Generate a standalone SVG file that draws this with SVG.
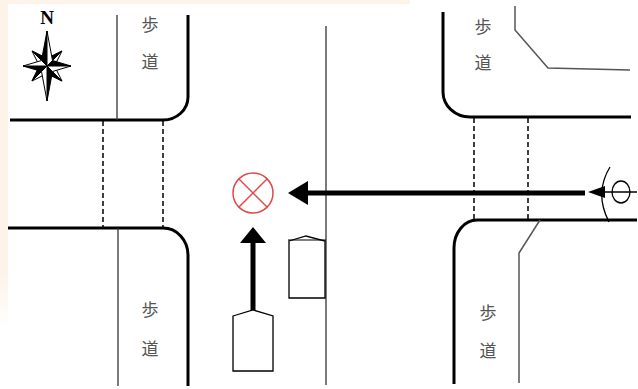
<svg xmlns="http://www.w3.org/2000/svg" width="638" height="389" viewBox="0 0 638 389">
<defs>
<linearGradient id="fade" x1="0" y1="0" x2="0" y2="1">
  <stop offset="0" stop-color="#fdf3e9"/>
  <stop offset="0.7" stop-color="#fdf3e9"/>
  <stop offset="0.85" stop-color="#fff"/>
</linearGradient>
</defs>
<style>
.edge{fill:none;stroke:#000;stroke-width:3;stroke-linecap:butt}
.thin{fill:none;stroke:#333;stroke-width:1.3}
.gray{fill:none;stroke:#555;stroke-width:1.5}
.dash{fill:none;stroke:#000;stroke-width:1.5;stroke-dasharray:5,3}
.lbl{font-family:"Noto Sans CJK JP","Noto Sans CJK SC",sans-serif;font-size:17px;fill:#555;text-anchor:middle}
.car{fill:#fff;stroke:#000;stroke-width:1.3}
.flow{fill:none;stroke:#000;stroke-width:5}
</style>
<rect width="638" height="389" fill="url(#fade)"/>
<rect x="8" y="4" width="630" height="385" fill="#fff"/>
<rect x="410" y="0" width="228" height="5" fill="#fff"/>

<g id="roads">
  <path class="edge" d="M10,120 H163 A25,23 0 0 0 188,97 V15"/>
  <path class="edge" d="M8,228 H163 A25,27 0 0 1 188,255 V386"/>
  <path class="edge" d="M443,12 V92 A27,25 0 0 0 470,117 H631"/>
  <path class="edge" d="M637,220 H477 A23,28 0 0 0 454,248 V384"/>
  <line class="thin" x1="326" y1="26" x2="326" y2="385"/>
</g>

<g id="sidewalk-nw">
  <line class="thin" x1="117" y1="15" x2="117" y2="120"/>
  <text class="lbl" x="150" y="31">歩</text>
  <text class="lbl" x="150" y="68">道</text>
</g>
<g id="sidewalk-sw">
  <line class="thin" x1="118" y1="228" x2="118" y2="386"/>
  <text class="lbl" x="150" y="316">歩</text>
  <text class="lbl" x="150" y="355">道</text>
</g>
<g id="sidewalk-ne">
  <polyline class="gray" points="515,6 515,30 548,68 630,70"/>
  <text class="lbl" x="483" y="33">歩</text>
  <text class="lbl" x="483" y="69">道</text>
</g>
<g id="sidewalk-se">
  <polyline class="gray" points="540,220 519,253 519,383"/>
  <text class="lbl" x="488" y="319">歩</text>
  <text class="lbl" x="488" y="357">道</text>
</g>

<g id="crosswalk-west">
  <line class="dash" x1="103" y1="121" x2="103" y2="227"/>
  <line class="dash" x1="163" y1="121" x2="163" y2="227"/>
</g>
<g id="crosswalk-east">
  <line class="dash" x1="474" y1="118" x2="474" y2="219"/>
  <line class="dash" x1="528" y1="118" x2="528" y2="219"/>
</g>

<g id="compass">
  <text x="47" y="24" font-family="'Liberation Serif',serif" font-weight="bold" font-size="19" text-anchor="middle">N</text>
  <g stroke="#000" stroke-width="1" stroke-linejoin="miter">
    <polygon points="62,51 46,59 54,67" fill="#fff"/>
    <polygon points="62,51 46,59 47,66" fill="#000"/>
    <polygon points="62,81 54,65 46,73" fill="#fff"/>
    <polygon points="62,81 46,73 47,66" fill="#000"/>
    <polygon points="32,81 48,73 40,65" fill="#fff"/>
    <polygon points="32,81 40,65 47,66" fill="#000"/>
    <polygon points="32,51 40,67 48,59" fill="#fff"/>
    <polygon points="32,51 48,59 47,66" fill="#000"/>
    <polygon points="47,31 41.5,60.5 47,66" fill="#000"/>
    <polygon points="47,31 52.5,60.5 47,66" fill="#fff"/>
    <polygon points="71,66 52.5,60.5 47,66" fill="#000"/>
    <polygon points="71,66 52.5,71.5 47,66" fill="#fff"/>
    <polygon points="47,101 52.5,71.5 47,66" fill="#000"/>
    <polygon points="47,101 41.5,71.5 47,66" fill="#fff"/>
    <polygon points="23,66 41.5,71.5 47,66" fill="#000"/>
    <polygon points="23,66 41.5,60.5 47,66" fill="#fff"/>
  </g>
</g>

<g id="car-a">
  <polygon class="car" points="233,316 253,310 273,316 273,371 233,371"/>
</g>
<g id="car-b">
  <polygon class="car" points="289,241 306,236 325,241 325,298 289,298"/>
  <line x1="288" y1="240" x2="326" y2="240" stroke="#000" stroke-width="1"/>
</g>

<g id="collision">
  <circle cx="253" cy="193" r="20" fill="none" stroke="#e04848" stroke-width="1.5"/>
  <line x1="239" y1="179" x2="267" y2="207" stroke="#e04848" stroke-width="1.5"/>
  <line x1="267" y1="179" x2="239" y2="207" stroke="#e04848" stroke-width="1.5"/>
</g>

<g id="pedestrian">
  <ellipse cx="621" cy="192" rx="9" ry="11" fill="none" stroke="#000" stroke-width="1.3"/>
  <path d="M610,167 Q594,193 609,222" fill="none" stroke="#000" stroke-width="1.3"/>
</g>

<g id="connectors">
  <line class="flow" x1="307" y1="193" x2="585" y2="193"/>
  <polygon points="288,193 308,181 308,205" fill="#000"/>
  <line x1="600" y1="192" x2="637" y2="192" stroke="#000" stroke-width="1.3"/>
  <polygon points="588,192 605,186 605,198" fill="#000"/>
  <line class="flow" x1="253" y1="310" x2="253" y2="241"/>
  <polygon points="253,227 240,243 266,243" fill="#000"/>
</g>
</svg>
